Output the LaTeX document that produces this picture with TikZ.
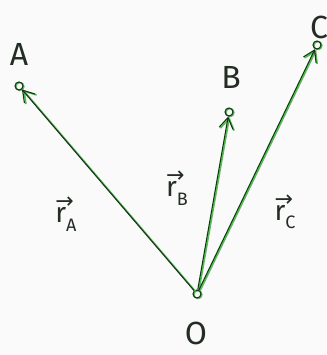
\documentclass[tikz,border=0pt]{standalone}
\usepackage{fontspec}
\setmainfont{Fira Sans}
\newfontfamily\arrowfont{DejaVu Sans}
\usetikzlibrary{arrows.meta}
\definecolor{ink}{RGB}{35,45,35}
\definecolor{hl}{RGB}{70,200,70}
\newcommand{\rlab}[1]{\makebox[0pt][l]{\raisebox{0.5em}{\arrowfont\fontsize{22}{22}\selectfont →}}r\raisebox{-0.3em}{\fontsize{18}{20}\selectfont #1}}
\tikzset{
  pt/.style={circle, draw=ink, line width=1.1pt, inner sep=0pt, minimum size=8pt,
    preaction={draw=hl, line width=1.3pt, transform canvas={xshift=1pt,yshift=-0.6pt}}},
  vec/.style={draw=ink, line width=1.1pt, -{Straight Barb[length=11pt,width=14pt]},
    preaction={draw=hl, line width=1.6pt, -{Straight Barb[length=11pt,width=14pt]}, transform canvas={xshift=1.2pt,yshift=-0.6pt}}},
  lbl/.style={text=ink, font=\fontsize{32}{36}\selectfont, inner sep=0pt},
  rlbl/.style={text=ink, font=\fontsize{28}{30}\selectfont, inner sep=0pt}
}
\begin{document}
\begin{tikzpicture}[x=1pt,y=-1pt]
\useasboundingbox[fill=white!96!gray] (0,0) rectangle (326,355);
\node[pt] (O) at (197,294) {};
\node[pt] (A) at (19,86) {};
\node[pt] (B) at (229,112) {};
\node[pt] (C) at (317,45) {};
\node[lbl] (lA) at (19,54) {A};
\node[lbl] (lB) at (231,77) {B};
\node[lbl] (lC) at (319,27) {C};
\node[lbl] (lO) at (196,333) {O};
\draw[vec] (O) -- (A);
\draw[vec] (O) -- (B);
\draw[vec] (O) -- (C);
\node[rlbl] (rA) at (66,214) {\rlab{A}};
\node[rlbl] (rB) at (177,188) {\rlab{B}};
\node[rlbl] (rC) at (285,212) {\rlab{C}};
\end{tikzpicture}
\end{document}
